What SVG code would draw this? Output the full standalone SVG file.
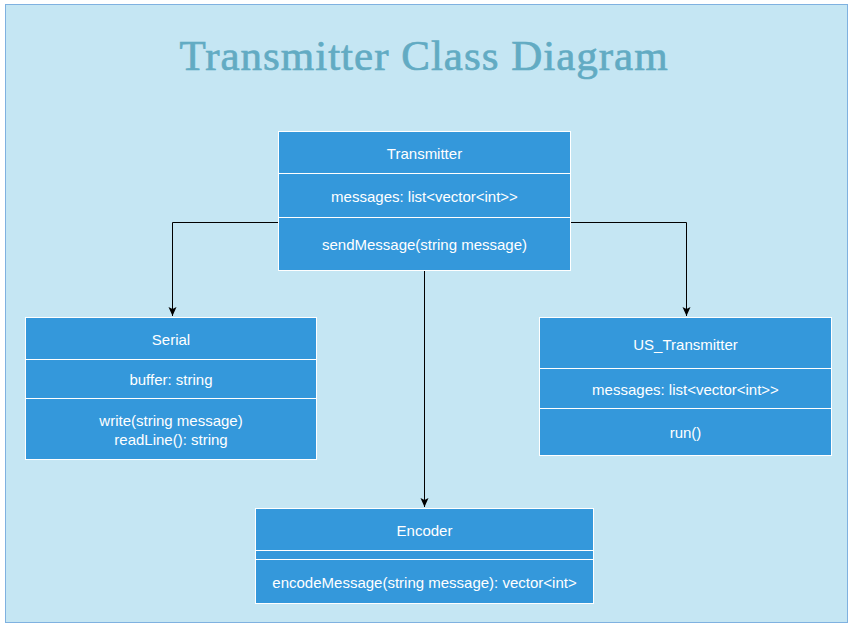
<svg xmlns="http://www.w3.org/2000/svg" width="854" height="629" viewBox="0 0 854 629">
<defs>
<style>
.box{fill:#3498DB;stroke:#FFFFFF;stroke-width:1}
.div{stroke:#FFFFFF;stroke-width:1.2}
.t{font-family:"Liberation Sans",Arial,sans-serif;font-size:15px;fill:#FFFFFF;text-anchor:middle;dominant-baseline:central}
.c{fill:none;stroke:#000000;stroke-width:1}
</style>
<marker id="ah" markerWidth="10" markerHeight="10" refX="9" refY="5" orient="auto" markerUnits="userSpaceOnUse" viewBox="0 0 10 10">
<path d="M0,1 L9,5 L0,9 L2,5 Z" fill="#000000"/>
</marker>
</defs>
<rect x="0" y="0" width="854" height="629" fill="#FFFFFF"/>
<rect x="5.5" y="4.5" width="842" height="618" fill="#C5E6F3" stroke="#7FB1E0" stroke-width="1"/>
<text x="424" y="70" font-family="'Liberation Serif','Times New Roman',serif" font-size="43" fill="#62ABC3" stroke="#62ABC3" stroke-width="0.7" text-anchor="middle" letter-spacing="1">Transmitter Class Diagram</text>
<g id="connectors">
<path class="c" d="M278,222.5 H172.5 V316" marker-end="url(#ah)"/>
<path class="c" d="M570,222.5 H686.5 V316" marker-end="url(#ah)"/>
<path class="c" d="M424.5,270 V507" marker-end="url(#ah)"/>
</g>
<g id="transmitter">
<rect class="box" x="278.5" y="131.5" width="292" height="139"/>
<line class="div" x1="278.5" y1="173.5" x2="570.5" y2="173.5"/>
<line class="div" x1="278.5" y1="217.5" x2="570.5" y2="217.5"/>
<text class="t" x="424.5" y="153">Transmitter</text>
<text class="t" x="424.5" y="196">messages: list&lt;vector&lt;int&gt;&gt;</text>
<text class="t" x="424.5" y="244">sendMessage(string message)</text>
</g>
<g id="serial">
<rect class="box" x="25.5" y="317.5" width="291" height="142"/>
<line class="div" x1="25.5" y1="359.5" x2="316.5" y2="359.5"/>
<line class="div" x1="25.5" y1="398.5" x2="316.5" y2="398.5"/>
<text class="t" x="171" y="339">Serial</text>
<text class="t" x="171" y="379">buffer: string</text>
<text class="t" x="171" y="420">write(string message)</text>
<text class="t" x="171" y="439">readLine(): string</text>
</g>
<g id="us_transmitter">
<rect class="box" x="539.5" y="317.5" width="292" height="138"/>
<line class="div" x1="539.5" y1="368.5" x2="831.5" y2="368.5"/>
<line class="div" x1="539.5" y1="408.5" x2="831.5" y2="408.5"/>
<text class="t" x="685.5" y="344">US_Transmitter</text>
<text class="t" x="685.5" y="389">messages: list&lt;vector&lt;int&gt;&gt;</text>
<text class="t" x="685.5" y="432">run()</text>
</g>
<g id="encoder">
<rect class="box" x="255.5" y="508.5" width="338" height="95"/>
<line class="div" x1="255.5" y1="550.5" x2="593.5" y2="550.5"/>
<line class="div" x1="255.5" y1="559.5" x2="593.5" y2="559.5"/>
<text class="t" x="424.5" y="530">Encoder</text>
<text class="t" x="424.5" y="582">encodeMessage(string message): vector&lt;int&gt;</text>
</g>
</svg>
